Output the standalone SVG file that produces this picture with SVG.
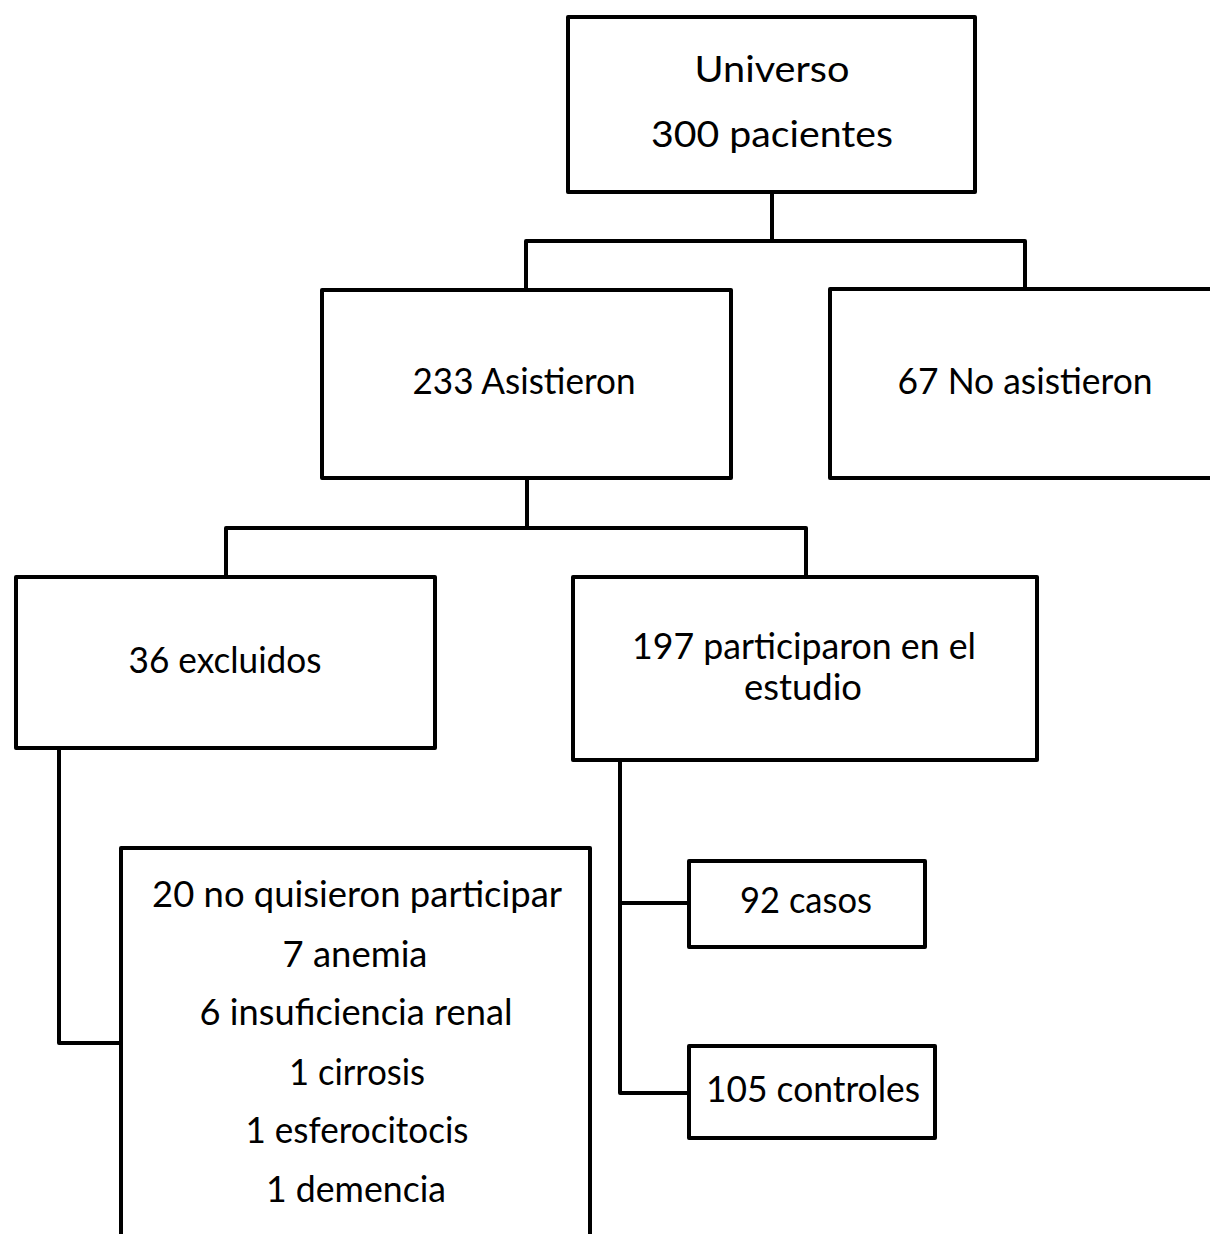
<svg xmlns="http://www.w3.org/2000/svg" width="1210" height="1234" viewBox="0 0 1210 1234">
<style>
.box{fill:#fff;stroke:#000;stroke-width:4;stroke-linejoin:round}
.con{fill:none;stroke:#000;stroke-width:4;stroke-linejoin:round}
text{font-family:Lato,"Open Sans","Liberation Sans",sans-serif;font-size:37px;fill:#000;text-anchor:middle}
</style>
<rect width="1210" height="1234" fill="#fff"/>
<g id="connectors">
<path class="con" d="M772,192 V241 M526,290 V241 H1025 V290"/>
<path class="con" d="M527,478 V528 M226,577 V528 H806 V577"/>
<path class="con" d="M59,748 V1043 H121"/>
<path class="con" d="M620,760 V1093 H689 M620,903 H689"/>
</g>
<g id="universo">
<rect class="box" x="568" y="17" width="407" height="175"/>
<text x="772" y="82" textLength="155" lengthAdjust="spacingAndGlyphs">Universo</text>
<text x="772" y="147" textLength="242" lengthAdjust="spacingAndGlyphs">300 pacientes</text>
</g>
<g id="asistieron">
<rect class="box" x="322" y="290" width="409" height="188"/>
<text x="524" y="394" textLength="223" lengthAdjust="spacingAndGlyphs">233 Asistieron</text>
</g>
<g id="no-asistieron">
<rect class="box" x="830" y="289" width="392" height="189"/>
<text x="1025" y="394" textLength="255" lengthAdjust="spacingAndGlyphs">67 No asistieron</text>
</g>
<g id="excluidos">
<rect class="box" x="16" y="577" width="419" height="171"/>
<text x="225" y="673" textLength="193" lengthAdjust="spacingAndGlyphs">36 excluidos</text>
</g>
<g id="participaron">
<rect class="box" x="573" y="577" width="464" height="183"/>
<text x="804" y="659" textLength="344" lengthAdjust="spacingAndGlyphs">197 participaron en el</text>
<text x="803" y="700" textLength="118" lengthAdjust="spacingAndGlyphs">estudio</text>
</g>
<g id="motivos">
<rect class="box" x="121" y="848" width="469" height="420"/>
<text x="357" y="907" textLength="410" lengthAdjust="spacingAndGlyphs">20 no quisieron participar</text>
<text x="355" y="967" textLength="145" lengthAdjust="spacingAndGlyphs">7 anemia</text>
<text x="356" y="1025" textLength="313" lengthAdjust="spacingAndGlyphs">6 insuficiencia renal</text>
<text x="357" y="1085" textLength="136" lengthAdjust="spacingAndGlyphs">1 cirrosis</text>
<text x="357" y="1143" textLength="223" lengthAdjust="spacingAndGlyphs">1 esferocitocis</text>
<text x="356" y="1202" textLength="180" lengthAdjust="spacingAndGlyphs">1 demencia</text>
</g>
<g id="casos">
<rect class="box" x="689" y="861" width="236" height="86"/>
<text x="806" y="913" textLength="132" lengthAdjust="spacingAndGlyphs">92 casos</text>
</g>
<g id="controles">
<rect class="box" x="689" y="1046" width="246" height="92"/>
<text x="813" y="1102" textLength="214" lengthAdjust="spacingAndGlyphs">105 controles</text>
</g>
</svg>
